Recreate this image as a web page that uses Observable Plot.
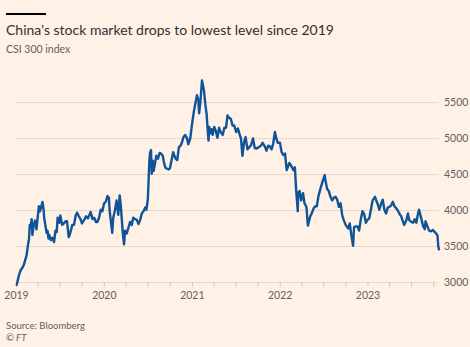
<!DOCTYPE html>
<html>
<head>
<meta charset="utf-8">
<script src="https://cdn.jsdelivr.net/npm/d3@7"></script>
<script src="https://cdn.jsdelivr.net/npm/@observablehq/plot@0.6"></script>
<style>
  html, body { margin: 0; padding: 0; background: #fff1e5; }
  body { width: 470px; height: 347px; overflow: hidden; position: relative; font-family: Lato, "Open Sans", sans-serif; }
  .bar { position: absolute; left: 6px; top: 12.5px; width: 40px; height: 2.5px; background: #000; }
  .title { position: absolute; left: 6px; top: 21px; font-size: 14px; line-height: 17px; color: #33302e; white-space: nowrap; }
  .subtitle { position: absolute; left: 6px; top: 43px; font-size: 10.5px; line-height: 13px; color: #66605c; }
  #chart { position: absolute; left: 0; top: 60px; }
  .source { position: absolute; left: 6px; top: 320px; font-size: 9.5px; line-height: 11px; color: #66605c; }
  .ft { position: absolute; left: 6px; top: 332px; font-size: 9.5px; line-height: 11px; color: #66605c; font-style: italic; }
</style>
</head>
<body>
<div class="bar"></div>
<div class="title">China's stock market drops to lowest level since 2019</div>
<div class="subtitle">CSI 300 index</div>
<div id="chart"></div>
<div class="source">Source: Bloomberg</div>
<div class="ft">© FT</div>
<script>
const dates = [
 "2019-01-02","2019-01-11","2019-01-18","2019-01-25","2019-02-01","2019-02-12","2019-02-18","2019-02-22","2019-02-25","2019-03-01",
 "2019-03-05","2019-03-08","2019-03-13","2019-03-19","2019-03-25","2019-03-29","2019-04-04","2019-04-09","2019-04-12","2019-04-19",
 "2019-04-24","2019-04-26","2019-05-06","2019-05-10","2019-05-14","2019-05-17","2019-05-24","2019-05-30","2019-06-06","2019-06-12",
 "2019-06-17","2019-06-21","2019-06-28","2019-07-02","2019-07-10","2019-07-17","2019-07-24","2019-07-30","2019-08-06","2019-08-09",
 "2019-08-15","2019-08-21","2019-08-28","2019-09-04","2019-09-10","2019-09-17","2019-09-24","2019-09-30","2019-10-11","2019-10-17",
 "2019-10-25","2019-11-05","2019-11-13","2019-11-20","2019-11-27","2019-12-03","2019-12-10","2019-12-17","2019-12-24","2019-12-31",
 "2020-01-07","2020-01-14","2020-01-20","2020-01-23","2020-02-03","2020-02-07","2020-02-14","2020-02-21","2020-02-28","2020-03-05",
 "2020-03-10","2020-03-13","2020-03-19","2020-03-23","2020-03-27","2020-04-03","2020-04-10","2020-04-17","2020-04-24","2020-04-30",
 "2020-05-08","2020-05-15","2020-05-22","2020-05-29","2020-06-05","2020-06-12","2020-06-19","2020-06-24","2020-06-30","2020-07-06",
 "2020-07-09","2020-07-13","2020-07-16","2020-07-21","2020-07-24","2020-07-28","2020-08-04","2020-08-11","2020-08-18","2020-08-24",
 "2020-08-31","2020-09-04","2020-09-10","2020-09-17","2020-09-25","2020-09-30","2020-10-13","2020-10-23","2020-10-30","2020-11-06",
 "2020-11-13","2020-11-20","2020-11-25","2020-12-02","2020-12-09","2020-12-15","2020-12-23","2020-12-31",
 "2021-01-07","2021-01-13","2021-01-20","2021-01-26","2021-01-29","2021-02-03","2021-02-10","2021-02-18","2021-02-24","2021-03-01",
 "2021-03-04","2021-03-09","2021-03-12","2021-03-16","2021-03-22","2021-03-26","2021-04-02","2021-04-08","2021-04-15","2021-04-22",
 "2021-04-28","2021-05-07","2021-05-14","2021-05-21","2021-05-27","2021-06-02","2021-06-10","2021-06-17","2021-06-24","2021-07-02",
 "2021-07-09","2021-07-16","2021-07-22","2021-07-28","2021-08-04","2021-08-10","2021-08-18","2021-08-25","2021-09-01","2021-09-10",
 "2021-09-17","2021-09-24","2021-09-30","2021-10-13","2021-10-20","2021-10-29","2021-11-05","2021-11-12","2021-11-19","2021-11-26",
 "2021-12-03","2021-12-10","2021-12-16","2021-12-22","2021-12-31",
 "2022-01-07","2022-01-14","2022-01-21","2022-01-28","2022-02-08","2022-02-16","2022-02-25","2022-03-03","2022-03-08","2022-03-15",
 "2022-03-17","2022-03-23","2022-03-29","2022-04-06","2022-04-12","2022-04-20","2022-04-26","2022-05-06","2022-05-12","2022-05-20",
 "2022-05-27","2022-06-02","2022-06-09","2022-06-17","2022-06-24","2022-07-05","2022-07-08","2022-07-15","2022-07-22","2022-07-29",
 "2022-08-05","2022-08-12","2022-08-19","2022-08-26","2022-09-02","2022-09-09","2022-09-16","2022-09-23","2022-09-30","2022-10-11",
 "2022-10-17","2022-10-24","2022-10-31","2022-11-04","2022-11-11","2022-11-18","2022-11-25","2022-12-02","2022-12-09","2022-12-16",
 "2022-12-23","2022-12-30",
 "2023-01-06","2023-01-13","2023-01-20","2023-01-30","2023-02-03","2023-02-10","2023-02-17","2023-02-24","2023-03-03","2023-03-10",
 "2023-03-17","2023-03-24","2023-03-31","2023-04-07","2023-04-14","2023-04-21","2023-04-28","2023-05-05","2023-05-12","2023-05-19",
 "2023-05-26","2023-05-31","2023-06-09","2023-06-16","2023-06-21","2023-06-30","2023-07-07","2023-07-14","2023-07-21","2023-07-28",
 "2023-08-01","2023-08-04","2023-08-11","2023-08-18","2023-08-25","2023-08-28","2023-09-05","2023-09-12","2023-09-19","2023-09-27",
 "2023-10-11","2023-10-17","2023-10-20","2023-10-23"
];
const values = [
 2970,3100,3170,3200,3250,3380,3530,3600,3800,3780,
 3880,3660,3790,3860,3740,3870,4060,3990,4030,4120,
 4000,3900,3690,3720,3610,3660,3590,3620,3560,3720,
 3700,3900,3830,3930,3800,3820,3850,3850,3630,3650,
 3720,3800,3800,3930,3970,3920,3880,3820,3880,3920,
 3890,3980,3880,3900,3840,3840,3900,4010,3990,4100,
 4120,4200,4180,4000,3690,3900,4000,4140,3940,4210,
 4050,3900,3640,3530,3720,3680,3760,3840,3800,3900,
 3880,3870,3810,3870,3960,3990,4040,4010,4160,4670,
 4800,4840,4510,4690,4550,4620,4760,4720,4800,4790,
 4760,4680,4600,4580,4570,4590,4810,4720,4700,4880,
 4900,4960,5020,5050,5010,4920,5000,5210,
 5370,5480,5600,5530,5350,5500,5807,5670,5470,5340,
 5200,4970,5160,5070,5130,5050,5160,5110,5010,5150,
 5090,5050,5150,5150,5320,5290,5270,5180,5180,5090,
 5140,5060,5000,4760,4950,5020,4850,4880,4900,5000,
 4870,4860,4870,4900,4940,4890,4830,4900,4890,4850,
 4930,5090,5000,4940,4940,
 4810,4770,4790,4560,4660,4620,4560,4600,4300,3990,
 4250,4270,4140,4240,4100,4050,3790,3920,3960,4030,
 4060,4060,4200,4300,4380,4490,4420,4300,4270,4190,
 4140,4180,4190,4150,4050,4100,3930,3860,3800,3750,
 3820,3650,3510,3770,3780,3780,3720,3880,3990,3950,
 3830,3870,
 3890,4010,4140,4190,4150,4090,4010,4090,4150,4010,
 3960,4040,4050,4070,4120,4060,4030,4000,3950,3920,
 3850,3800,3860,3960,3870,3840,3830,3880,3830,3960,
 4010,3970,3880,3780,3740,3850,3780,3720,3710,3730,
 3680,3650,3500,3460
];
const yTicks = [3000, 3500, 4000, 4500, 5000, 5500];
const xDomain = ["2019-01-01", "2023-10-23"];

const data = dates.map((d, i) => ({date: new Date(d), value: values[i]}));

const chart = Plot.plot({
  width: 470,
  height: 250,
  marginLeft: 16,
  marginRight: 31.5,
  marginTop: 42,
  marginBottom: 28,
  style: {background: "transparent", fontFamily: "Lato, 'Open Sans', sans-serif", fontSize: "10.5px", color: "#66605c", overflow: "visible"},
  x: {type: "utc", domain: xDomain.map(d => new Date(d))},
  y: {domain: [3000, 5500]},
  marks: [
    Plot.gridY(yTicks, {stroke: "#e6d9ce", strokeOpacity: 1, strokeWidth: 1}),
    Plot.axisY(yTicks, {anchor: "right", tickSize: 0, tickPadding: 5, label: null, fill: "#66605c", tickFormat: d => String(d)}),
    Plot.axisX({ticks: "3 months", tickSize: 5, tickPadding: 4, label: null, stroke: "#d3c7bc", strokeOpacity: 1, fill: "#66605c",
      tickFormat: d => d.getUTCMonth() === 0 ? String(d.getUTCFullYear()) : ""}),
    Plot.lineY(data, {x: "date", y: "value", stroke: "#0f5499", strokeWidth: 2.4, strokeLinejoin: "round"})
  ]
});
document.getElementById("chart").appendChild(chart);
</script>
</body>
</html>
